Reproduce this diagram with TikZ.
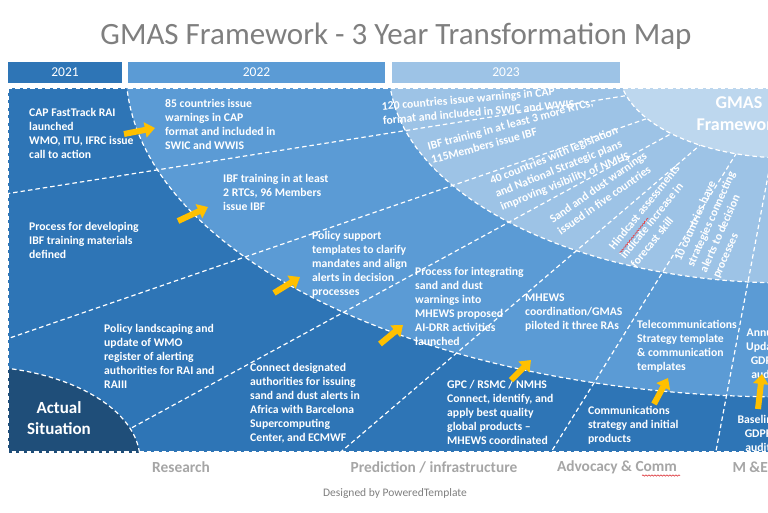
\documentclass[tikz,border=0pt]{standalone}
\usepackage{fontspec}
\setmainfont{Carlito}
\usepackage{tikz}
\usetikzlibrary{arrows.meta,calc,decorations.pathmorphing}
\definecolor{gmdark}{HTML}{2E75B6}
\definecolor{gmmid}{HTML}{5B9BD5}
\definecolor{gmlight}{HTML}{9DC3E6}
\definecolor{gmpale}{HTML}{BDD7EE}
\definecolor{gmnavy}{HTML}{1F4E79}
\definecolor{gmgray}{HTML}{A6A6A6}
\definecolor{gmtitle}{HTML}{7F7F7F}
\definecolor{gmarrow}{HTML}{FFC000}
\definecolor{gmspell}{HTML}{E0464B}

\begin{document}
\begin{tikzpicture}[x=1pt,y=-1pt,
    item/.style={text=white,font=\fontsize{11.7}{14}\selectfont\bfseries,
                 align=left,anchor=north west,inner sep=0pt},
    tilted/.style={item,anchor=center},
    yearbox/.style={minimum height=21pt,inner sep=0pt,text=white,
                    font=\fontsize{13.5}{15}\selectfont},
    axislabel/.style={text=gmgray,font=\fontsize{15.4}{18}\selectfont\bfseries},
    rim/.style={draw=white,line width=1.2pt,dash pattern=on 4.5pt off 3pt},
    push/.style={draw=gmarrow,line width=6pt,-{Triangle[length=10pt,width=15pt]}},
    spell/.style={draw=gmspell,line width=0.7pt,
                  decorate,decoration={snake,amplitude=0.6pt,segment length=3pt}}]
  \useasboundingbox (0,0) rectangle (768,512);
  \clip (0,0) rectangle (768,512);
  \fill[white] (0,0) rectangle (768,512);

  \node[text=gmtitle,font=\fontsize{31}{34}\selectfont] (title) at (396,36)
    {GMAS Framework - 3 Year Transformation Map};
  \node[yearbox,fill=gmdark,minimum width=114pt] (y2021) at (65,72.5) {2021};
  \node[yearbox,fill=gmmid,minimum width=257pt] (y2022) at (256.5,72.5) {2022};
  \node[yearbox,fill=gmlight,minimum width=228pt] (y2023) at (506,72.5) {2023};

  % rings and rays
  \coordinate (c) at (788,70);
  \begin{scope}
    \clip (8,88) rectangle (790,452);
    \fill[gmdark] (8,88) rectangle (790,452);
    \fill[gmmid] (c) ellipse [x radius=662pt,y radius=327pt];
    \fill[gmlight] (c) ellipse [x radius=399pt,y radius=213pt];
    \foreach \a in {171,161,151.4,139.5,121.8,100.7}
      \draw[rim] (c) -- ++(\a:1000);
    \fill[gmpale] (c) ellipse [x radius=169pt,y radius=88pt];
    \draw[rim] (c) ellipse [x radius=662pt,y radius=327pt];
    \draw[rim] (c) ellipse [x radius=399pt,y radius=213pt];
    \draw[rim] (c) ellipse [x radius=169pt,y radius=88pt];
    \fill[gmnavy] (-30,460) ellipse [x radius=170pt,y radius=94pt];
    \draw[rim] (-30,460) ellipse [x radius=170pt,y radius=94pt];
  \end{scope}
  \draw[rim] (8,88) rectangle (790,452);

  \node[text=white,font=\fontsize{18}{22}\selectfont\bfseries,align=center]
    (gmas) at (739,114) {GMAS\\Framework};
  \node[text=white,font=\fontsize{17}{21}\selectfont\bfseries,align=center]
    (actual) at (59,418) {Actual\\Situation};

  % 2021
  \node[item] (a1) at (29,108) {CAP FastTrack RAI\\launched\\WMO, ITU, IFRC issue\\call to action};
  \node[item] (a2) at (29,222) {Process for developing\\IBF training materials\\defined};
  \node[item] (a3) at (104,324) {Policy landscaping and\\update of WMO\\register of alerting\\authorities for RAI and\\RAIII};
  \node[item] (a4) at (250,363) {Connect designated\\authorities for issuing\\sand and dust alerts in\\Africa with Barcelona\\Supercomputing\\Center, and ECMWF};
  \node[item] (a5) at (447,380) {GPC / RSMC / NMHS\\Connect, identify, and\\apply best quality\\global products --\\MHEWS coordinated};
  \node[item] (a6) at (588,406) {Communications\\strategy and initial\\products};
  \node[item,align=center,anchor=north] (a7) at (758,415) {Baseline\\GDPF\\audit};

  % 2022
  \node[item] (b1) at (165,99) {85 countries issue\\warnings in CAP\\format and included in\\SWIC and WWIS};
  \node[item] (b2) at (223,174) {IBF training in at least\\2 RTCs, 96 Members\\issue IBF};
  \node[item] (b3) at (312,231) {Policy support\\templates to clarify\\mandates and align\\alerts in decision\\processes};
  \node[item] (b4) at (415,267) {Process for integrating\\sand and dust\\warnings into\\MHEWS proposed\\AI-DRR activities\\launched};
  \node[item] (b5) at (525,294) {MHEWS\\coordination/GMAS\\piloted it three RAs};
  \node[item] (b6) at (637,320) {Telecommunications\\Strategy template\\\& communication\\templates};
  \node[item,align=center,anchor=north] (b7) at (764,328) {Annual\\Update\\GDPF\\audit};

  % 2023
  \node[tilted,rotate=5] (c1) at (478,105) {120 countries issue warnings in CAP\\format and included in SWIC and WWIS};
  \node[tilted,rotate=15] (c2) at (512,131) {IBF training in at least 3 more RTCs,\\115Members issue IBF};
  \node[tilted,rotate=22] (c3) at (560,169) {40 countries with legislation\\and National Strategic plans\\improving visibility of NMHS};
  \node[tilted,rotate=35] (c4) at (602,193) {Sand and dust warnings\\issued in five countries};
  \node[tilted,rotate=51] (c5) at (655,216) {Hindcast assessments\\indicate increase in\\forecast skill};
  \node[tilted,rotate=66] (c6) at (718,222) {10 countries have\\strategies connecting\\alerts to decision\\processes};

  % arrows
  \draw[push] (124,134) -- (155,128);
  \draw[push] (178,221) -- (208,207);
  \draw[push] (274,293) -- (300,277);
  \draw[push] (380,344) -- (403,325);
  \draw[push] (511,380) -- (531,360);
  \draw[push] (654,404) -- (668,378);
  \draw[push] (758,409) -- (762,374);

  \node[axislabel] (research) at (181,467) {Research};
  \node[axislabel] (predict) at (434,467) {Prediction / infrastructure};
  \node[axislabel] (advocacy) at (617,467) {Advocacy \& Comm};
  \node[axislabel,anchor=west] (mande) at (729,467) {M \&E};
  \node[text=gmtitle,font=\fontsize{11.5}{13}\selectfont] (credit) at (395,493)
    {Designed by PoweredTemplate};

  % spelling marks
  \draw[spell] (642,475.5) -- (680,475.5);
  \draw[spell] (620,253) -- (648,218);
\end{tikzpicture}
\end{document}
